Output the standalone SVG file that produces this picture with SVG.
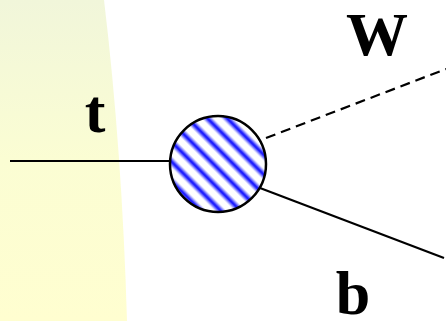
<svg xmlns="http://www.w3.org/2000/svg" width="446" height="321" viewBox="0 0 446 321">
<defs>
<linearGradient id="bg" x1="0" y1="0" x2="0" y2="1">
<stop offset="0" stop-color="#f1f6da"/>
<stop offset="0.5" stop-color="#fbfdd3"/>
<stop offset="1" stop-color="#fffed0"/>
</linearGradient>
<linearGradient id="stripe" x1="0" y1="0" x2="1" y2="0">
<stop offset="0" stop-color="#ffffff"/>
<stop offset="0.2" stop-color="#ffffff"/>
<stop offset="0.5" stop-color="#0000ff"/>
<stop offset="0.8" stop-color="#ffffff"/>
<stop offset="1" stop-color="#ffffff"/>
</linearGradient>
<pattern id="hatch" width="14" height="14" patternUnits="userSpaceOnUse" patternTransform="rotate(-45)">
<rect x="0" y="0" width="14" height="14" fill="url(#stripe)"/>
</pattern>
<style>
.lbl{font-family:"Liberation Serif",serif;font-weight:bold;font-size:62px;fill:#000;text-anchor:middle}
.ln{stroke:#000;stroke-width:2.2;fill:none}
</style>
</defs>
<path d="M0,0 L104,0 Q122,150 127,321 L0,321 Z" fill="url(#bg)"/>
<g id="connectors">
<line class="ln" x1="10" y1="161" x2="172" y2="161"/>
<line class="ln" x1="266" y1="138" x2="446" y2="69" stroke-dasharray="10,6"/>
<line class="ln" x1="260" y1="188" x2="444" y2="258"/>
</g>
<g id="vertex">
<circle cx="218" cy="164" r="48" fill="url(#hatch)" stroke="#000" stroke-width="2.5"/>
</g>
<g id="labels">
<text class="lbl" x="95" y="132">t</text>
<text class="lbl" x="377" y="55">W</text>
<text class="lbl" x="353" y="314">b</text>
</g>
</svg>
